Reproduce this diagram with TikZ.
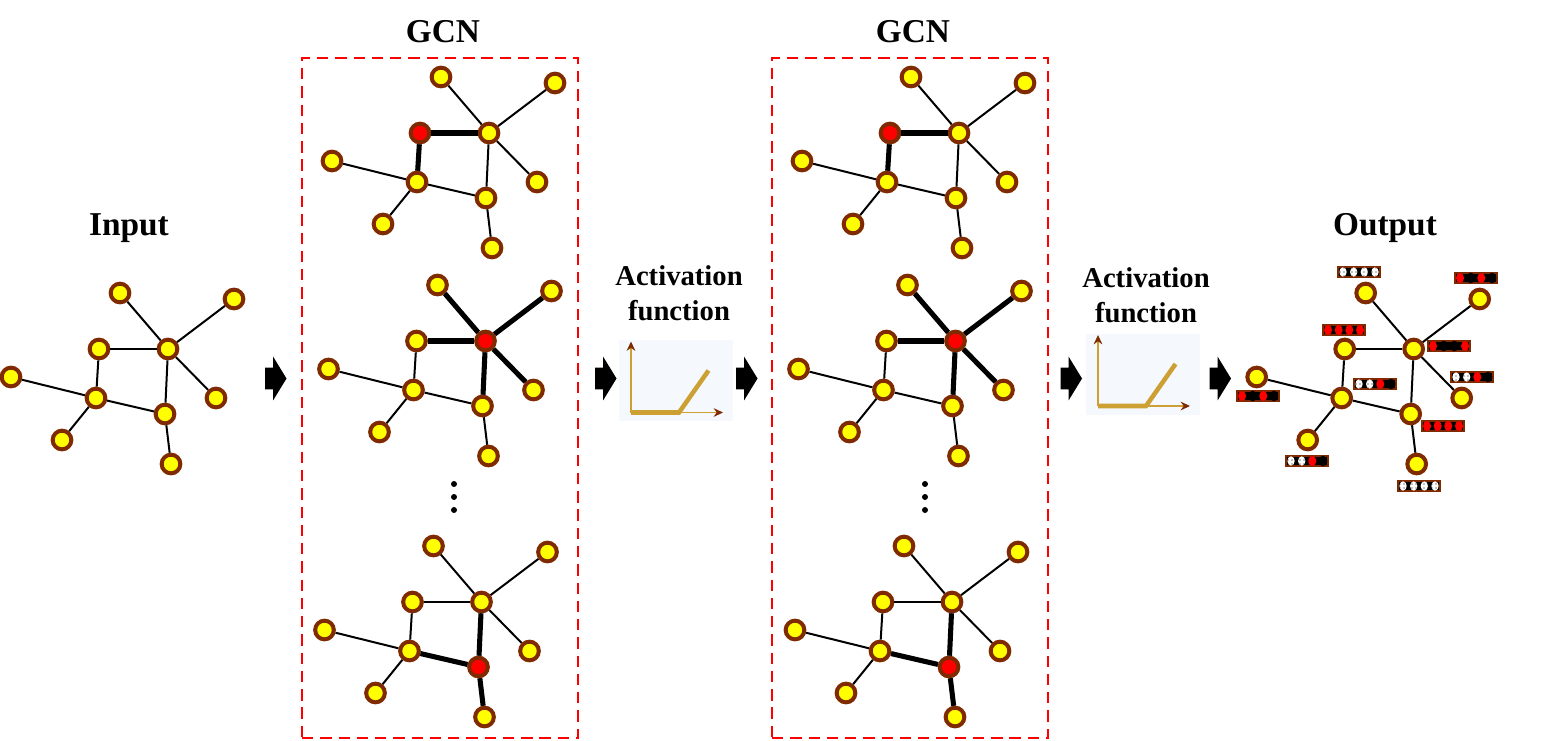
\documentclass[tikz,border=0pt]{standalone}
\usepackage{fontspec}
\setmainfont{Liberation Serif}
\usetikzlibrary{arrows.meta,shapes.arrows,shapes.geometric,patterns}
\definecolor{ringbrown}{HTML}{7F2A00}
\definecolor{nodeyellow}{HTML}{FFFF00}
\definecolor{panelbg}{HTML}{F5F9FD}
\definecolor{curvegold}{HTML}{CCA033}
\definecolor{tipbrown}{HTML}{7F2A00}
\tikzset{
  graphnode/.style={circle,draw=ringbrown,fill=nodeyellow,line width=3pt,
                    minimum size=14pt,inner sep=0pt},
  thinedge/.style={draw=black,line width=1.5pt},
  thickedge/.style={draw=black,line width=3.8pt},
  gcnbox/.style={draw=red,line width=2pt,dash pattern=on 8.5pt off 5.2pt,
                 minimum width=207pt,minimum height=510pt,inner sep=0pt},
  headtext/.style={font=\fontsize{25}{30}\selectfont\bfseries,align=center},
  acttext/.style={font=\fontsize{21.5}{26}\selectfont\bfseries,align=center},
  blockarr/.style={single arrow,fill=black,draw=none,inner xsep=0pt,inner ysep=8pt,
                   minimum height=16pt,
                   single arrow head extend=8.25pt,single arrow tip angle=117},
  vdot/.style={circle,fill=black,inner sep=0pt,minimum size=4.5pt},
  panel/.style={fill=panelbg,draw=none,inner sep=0pt,minimum width=85.5pt,minimum height=60.75pt},
  axisarr/.style={-{Stealth[length=7pt,width=6.5pt,color=tipbrown]},draw=curvegold,line width=1.4pt},
  ramp/.style={draw=curvegold,line width=3.4pt},
  stripbox/.style={draw=ringbrown,fill=black,line width=1.5pt,inner sep=0pt,
                   minimum width=31.5pt,minimum height=8pt},
  cellr/.style={ellipse,fill=red,inner sep=0pt,minimum width=6pt,minimum height=7.5pt},
  cellk/.style={ellipse,fill=black,inner sep=0pt,minimum width=6.5pt,minimum height=8pt},
  cellw/.style={ellipse,fill=white,inner sep=0pt,minimum width=5.5pt,minimum height=7pt,
                postaction={pattern=dots,pattern color=black}},
}
% one copy of the graph: name, shift, red node, heavy edges
\newcommand{\netgraph}[5]{
  \begin{scope}[shift={(#2,#3)},mark#4/.style={fill=red}]
    \foreach \n/\x/\y in {a/120/293,b/234/299,c/99/349,d/168/349,e/11/377,
                          f/96/398,g/165/414,h/216/398,i/62/440,j/171/464} {
      \node[graphnode,mark\n/.try] (#1\n) at (\x,\y) {};
    }
    \foreach \p/\q in {a/d,b/d,c/d,c/f,d/g,d/h,e/f,f/g,f/i,g/j} {
      \draw[thinedge] (#1\p) -- (#1\q);
    }
    \foreach \p/\q in {#5} {
      \draw[thickedge] (#1\p) -- (#1\q);
    }
  \end{scope}
}
% feature strip under an output node
\newcommand{\featstrip}[4]{
  \node[stripbox] (#1) at (#2,#3) {};
  \foreach \c/\dx [count=\i] in {#4} {
    \node[cell\c] (#1\i) at (#2+\dx,#3) {};
  }
}
% activation panel
\newcommand{\actpanel}[3]{
  \node[panel] (#1) at (#2,#3) {};
  \coordinate (#1o) at (#2-45,#3+32);
  \coordinate (#1y) at (#2-45,#3-39);
  \coordinate (#1x) at (#2+47,#3+32);
  \coordinate (#1k) at (#2+3,#3+32);
  \coordinate (#1e) at (#2+32.5,#3-10);
  \draw[axisarr] (#1o) -- (#1y);
  \draw[axisarr] (#1o) -- (#1x);
  \draw[ramp,line join=miter] (#1o) -- (#1k) -- (#1e);
}
\begin{document}
\begin{tikzpicture}[x=0.75pt,y=-0.75pt]
  \useasboundingbox (0,0) rectangle (1543,740);

  \node[gcnbox] (boxA) at (440,398) {};
  \node[gcnbox] (boxB) at (910,398) {};

  \node[headtext] (gcnA) at (443,32) {GCN};
  \node[headtext] (gcnB) at (913,32) {GCN};
  \node[headtext] (inlabel) at (129,228) {Input};
  \node[headtext] (outlabel) at (1385,228) {Output};
  \node[acttext] (actA) at (679,293) {Activation\\function};
  \node[acttext] (actB) at (1146,295) {Activation\\function};

  \netgraph{in}{0}{0}{none}{}
  \netgraph{ta}{321}{-216}{c}{c/d,c/f}
  \netgraph{ma}{317.5}{-8}{d}{d/a,d/b,d/c,d/g,d/h}
  \netgraph{ba}{313.5}{253}{g}{g/d,g/f,g/j}
  \netgraph{tb}{791}{-216}{c}{c/d,c/f}
  \netgraph{mb}{787.5}{-8}{d}{d/a,d/b,d/c,d/g,d/h}
  \netgraph{bb}{784}{253}{g}{g/d,g/f,g/j}
  \netgraph{out}{1245.7}{0}{none}{}

  \foreach \s/\x in {A/454,B/925} {
    \foreach \k/\y in {1/484,2/497,3/510} {
      \node[vdot] (dot\s\k) at (\x,\y) {};
    }
  }

  \foreach \k/\x in {1/272.5,2/602.5,3/743.5,4/1068,5/1217} {
    \node[blockarr] (step\k) at (\x,378.5) {};
  }

  \actpanel{panA}{676}{380.5}
  \actpanel{panB}{1143}{374}

  \featstrip{sa}{1359}{272}{w/-16,w/-5.3,w/5.3,w/16}
  \featstrip{sb}{1476}{278}{r/-16,k/-5.3,r/5.3,k/16}
  \featstrip{sc}{1344}{330}{r/-16,r/-5.3,r/5.3,r/16}
  \featstrip{sd}{1449}{346}{r/-16,k/-5.3,k/5.3,r/16}
  \featstrip{sh}{1472}{377}{w/-16,w/-5.3,r/5.3,k/16}
  \featstrip{sf}{1375}{384}{w/-16,w/-5.3,r/5.3,k/16}
  \featstrip{se}{1258}{396}{r/-16,k/-5.3,r/5.3,k/16}
  \featstrip{sg}{1443}{426}{r/-16,r/-5.3,r/5.3,r/16}
  \featstrip{si}{1307}{461}{w/-16,w/-5.3,r/5.3,k/16}
  \featstrip{sj}{1419}{486}{w/-16,w/-5.3,w/5.3,w/16}
\end{tikzpicture}
\end{document}
